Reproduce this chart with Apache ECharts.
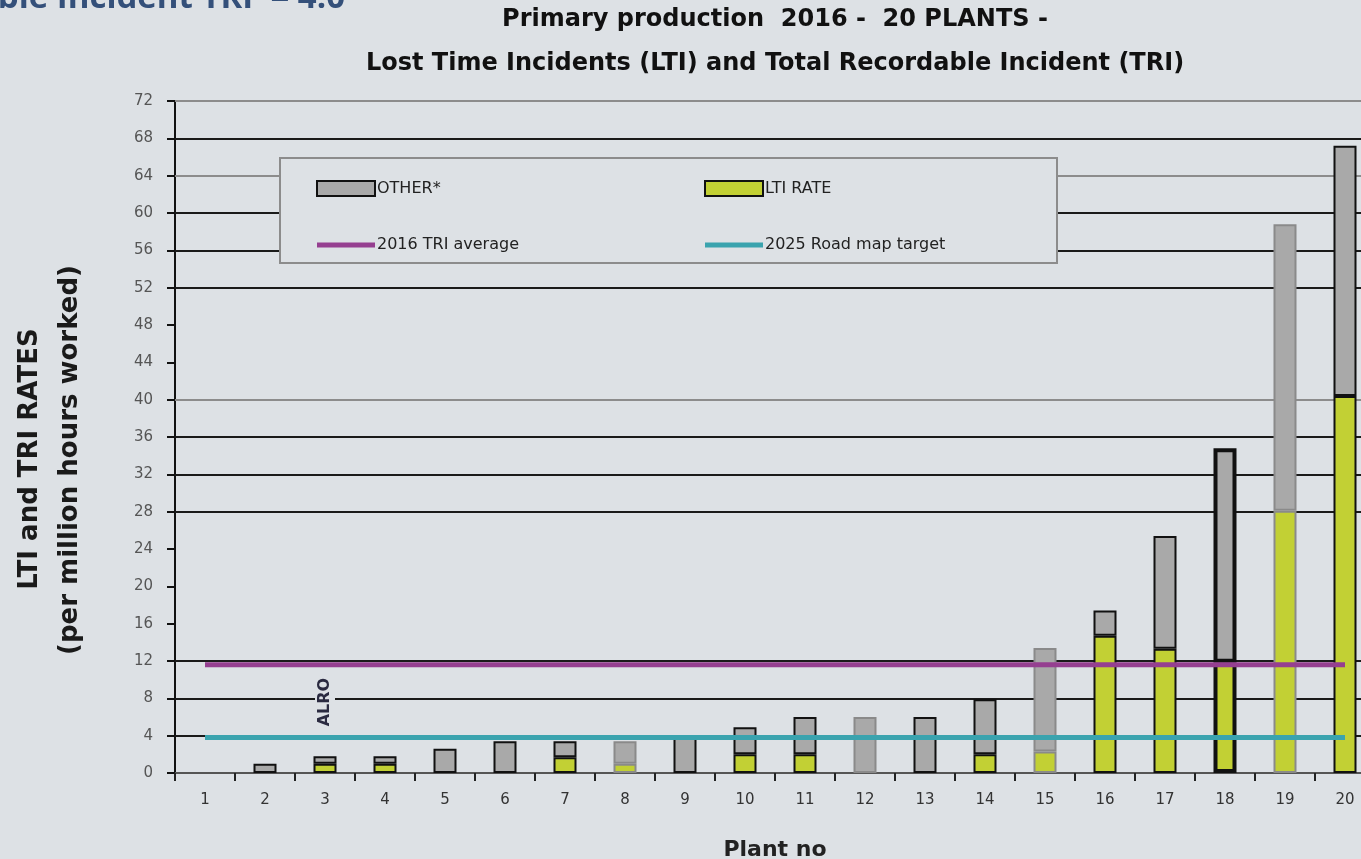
<!DOCTYPE html>
<html>
<head>
<meta charset="utf-8">
<script src="https://cdn.jsdelivr.net/npm/echarts@6/dist/echarts.min.js"></script>
<style>
    html, body { margin: 0; padding: 0; background: #dde1e5; }
    #chart { width: 1361px; height: 859px; }
</style>
</head>
<body>
<div id="chart"></div>
<script>
// plant numbers on the x axis
var plants = ['1','2','3','4','5','6','7','8','9','10','11','12','13','14','15','16','17','18','19','20'];
// LTI rate (green, bottom of stack)
var ltiRate = [0, 0, 1.0, 1.0, 0, 0, 1.7, 1.0, 0, 2.0, 2.0, 0, 0, 2.0, 2.3, 14.7, 13.3, 11.8, 28.1, 40.4];
// other recordables (grey, on top)
var otherRate = [0, 1.0, 0.8, 0.8, 2.6, 3.4, 1.7, 2.4, 3.8, 2.9, 4.0, 6.0, 6.0, 5.9, 11.1, 2.7, 12.1, 23.0, 30.7, 26.8];
// reference lines
var triAverage = 11.6;
var roadmapTarget = 3.8;
// the scanned chart only shows some grid lines
var gridDark = [68, 60, 56, 52, 36, 32, 28, 12, 8, 4];
var gridLight = [72, 64, 40];

var bg = '#dde1e5';
var font = 'DejaVu Sans';
var lineIcon = 'path://M0,0H58V5H0Z';

// some bars in the picture have a faded edge
var softEdge = { '8': 1, '12': 1, '15': 1, '19': 1 };

var toBars = function (arr) {
    return arr.map(function (v, i) {
        if (!v) return null;
        var p = plants[i];
        var item = { value: v };
        if (softEdge[p]) item.itemStyle = { borderColor: '#8a8a8a' };
        if (p === '18') item.itemStyle = { borderWidth: 4 };
        return item;
    });
};

var gridMarks = gridDark.map(function (v) {
    return { yAxis: v, lineStyle: { color: '#1a1a1a', width: 2, type: 'solid' } };
}).concat(gridLight.map(function (v) {
    return { yAxis: v, lineStyle: { color: '#8c8c8c', width: 2, type: 'solid' } };
}));

var chart = echarts.init(document.getElementById('chart'));

var legendText = { fontFamily: font, fontSize: 16, color: '#222', padding: [0, 0, 0, -3] };
var yNameFont = 'bold 26px "DejaVu Sans"';

var option = {
    backgroundColor: bg,
    animation: false,
    title: {
        text: 'Primary production  2016 -  20 PLANTS -\nLost Time Incidents (LTI) and Total Recordable Incident (TRI)',
        left: 770,
        top: -7,
        textAlign: 'center',
        textStyle: {
            fontFamily: font,
            fontSize: 24,
            fontWeight: 'bold',
            color: '#111',
            lineHeight: 44
        }
    },
    legend: [{
        orient: 'vertical',
        left: 311,
        top: 175,
        itemWidth: 58,
        itemHeight: 15,
        itemGap: 40,
        z: 10,
        data: [
            { name: 'OTHER*', icon: 'rect' },
            { name: '2016 TRI average', icon: lineIcon }
        ],
        textStyle: legendText
    }, {
        orient: 'vertical',
        left: 699,
        top: 175,
        itemWidth: 58,
        itemHeight: 15,
        itemGap: 40,
        z: 10,
        data: [
            { name: 'LTI RATE', icon: 'rect' },
            { name: '2025 Road map target', icon: lineIcon }
        ],
        textStyle: legendText
    }],
    graphic: [{
        type: 'rect',
        z: 5,
        shape: { x: 280, y: 158, width: 777, height: 105 },
        style: { fill: bg, stroke: '#8c8c8c', lineWidth: 2 }
    }, {
        type: 'text',
        z: 20,
        x: 345,
        y: 15,
        style: {
            text: 'ble Incident TRI  = 4.0',
            align: 'right',
            verticalAlign: 'bottom',
            font: 'bold 33px "Open Sans"',
            fill: '#34507a'
        }
    }, {
        // y axis title, two lines
        type: 'text',
        x: 30,
        y: 459,
        rotation: Math.PI / 2,
        style: { text: 'LTI and TRI RATES', font: yNameFont, fill: '#1a1a1a', align: 'center', verticalAlign: 'middle' }
    }, {
        type: 'text',
        x: 70,
        y: 460,
        rotation: Math.PI / 2,
        style: { text: '(per million hours worked)', font: yNameFont, fill: '#1a1a1a', align: 'center', verticalAlign: 'middle' }
    }],
    grid: {
        left: 175,
        right: -14,
        top: 101,
        bottom: 86,
        containLabel: false,
        outerBoundsMode: 'none'
    },
    xAxis: {
        type: 'category',
        data: plants,
        name: 'Plant no',
        nameLocation: 'middle',
        nameGap: 66,
        nameTextStyle: { fontFamily: font, fontSize: 22, fontWeight: 'bold', color: '#222' },
        axisLine: { lineStyle: { color: '#555', width: 2 } },
        axisTick: { show: true, length: 8, lineStyle: { color: '#222', width: 2 } },
        axisLabel: { margin: 20, fontFamily: font, fontSize: 15, color: '#333' }
    },
    yAxis: {
        type: 'value',
        min: 0,
        max: 72,
        interval: 4,
        splitLine: { show: false },
        axisLine: { show: true, lineStyle: { color: '#111', width: 2 } },
        axisTick: { show: true, length: 8, lineStyle: { color: '#111', width: 2 } },
        axisLabel: { margin: 22, fontFamily: font, fontSize: 15, color: '#555' }
    },
    series: [{
        // grid lines only
        type: 'line',
        data: [],
        z: 1,
        silent: true,
        markLine: {
            z: 1,
            silent: true,
            symbol: 'none',
            label: { show: false },
            data: gridMarks
        }
    }, {
        name: 'LTI RATE',
        type: 'bar',
        stack: 'rate',
        barWidth: 23,
        z: 3,
        itemStyle: { color: '#c2d034', borderColor: '#111', borderWidth: 2 },
        data: toBars(ltiRate),
        markPoint: {
            symbol: 'circle',
            symbolSize: 0,
            silent: true,
            label: {
                show: true,
                formatter: 'ALRO',
                rotate: 90,
                fontFamily: font,
                fontSize: 16,
                fontWeight: 'bold',
                color: '#2a2a40',
                backgroundColor: bg,
                padding: [2, 5]
            },
            data: [{ coord: ['3', 7.6] }]
        }
    }, {
        name: 'OTHER*',
        type: 'bar',
        stack: 'rate',
        barWidth: 23,
        z: 3,
        itemStyle: { color: '#a9a9a9', borderColor: '#111', borderWidth: 2 },
        data: toBars(otherRate)
    }, {
        name: '2016 TRI average',
        type: 'line',
        symbol: 'none',
        z: 4,
        lineStyle: { color: '#953f90', width: 5 },
        itemStyle: { color: '#953f90' },
        data: plants.map(function () { return triAverage; })
    }, {
        name: '2025 Road map target',
        type: 'line',
        symbol: 'none',
        z: 4,
        lineStyle: { color: '#3aa3ae', width: 5 },
        itemStyle: { color: '#3aa3ae' },
        data: plants.map(function () { return roadmapTarget; })
    }]
};

chart.setOption(option);
</script>
</body>
</html>
